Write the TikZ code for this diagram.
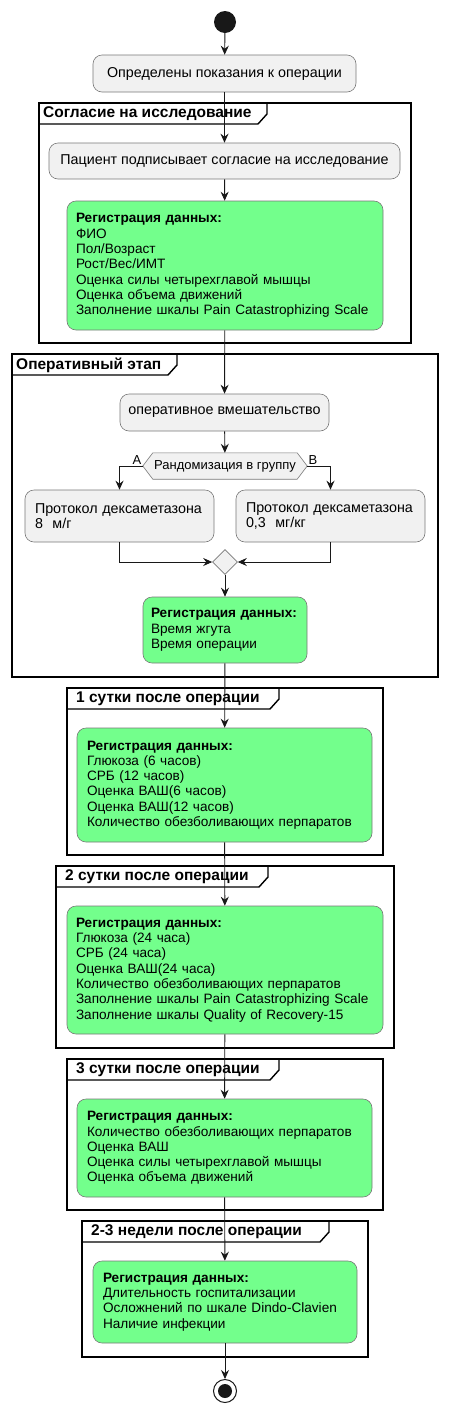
\documentclass[tikz,border=0pt]{standalone}
\usepackage{fontspec}
\setmainfont{Liberation Sans}
\usetikzlibrary{arrows.meta, positioning, shapes.geometric}
\definecolor{actgray}{RGB}{241, 241, 241}
\definecolor{reggreen}{RGB}{115, 255, 140}
\definecolor{flowline}{RGB}{24, 24, 24}
\definecolor{actborder}{RGB}{120, 120, 120}
\tikzset{
  act/.style={draw=actborder, fill=actgray, rounded corners=9pt, line width=0.6pt, inner sep=0pt, font=\fontsize{14.3}{15.3}\selectfont},
  reg/.style={act, fill=reggreen, align=left, inner xsep=9pt, font=\fontsize{13.6}{15.3}\selectfont},
  frm/.style={draw=black, line width=1.4pt},
  frmtitle/.style={anchor=west, inner sep=0pt, font=\fontsize{15.5}{17}\selectfont\bfseries},
  flow/.style={draw=flowline, line width=0.9pt, -{Stealth[length=9pt, width=8pt, inset=3pt]}},
}

\begin{document}
\begin{tikzpicture}[x=1pt, y=-1pt]
  \useasboundingbox (0,0) rectangle (452,1414);

  % frames
  \draw[frm] (39,103) rectangle (411,343);
  \draw[frm] (39,124) -- (258,124) -- (267,114) -- (267,103);
  \node[frmtitle] (t1) at (43,114) {Согласие на исследование};

  \draw[frm] (12,354) rectangle (438,677);
  \draw[frm] (12,375) -- (168,375) -- (177,365) -- (177,354);
  \node[frmtitle] (t2) at (16,365) {Оперативный этап};

  \draw[frm] (67,688) rectangle (383,855);
  \draw[frm] (67,709) -- (270,709) -- (279,699) -- (279,688);
  \node[frmtitle] (t3) at (76,699) {1 сутки после операции};

  \draw[frm] (56,866) rectangle (394,1048);
  \draw[frm] (56,887) -- (259,887) -- (268,877) -- (268,866);
  \node[frmtitle] (t4) at (65,877) {2 сутки после операции};

  \draw[frm] (67,1059) rectangle (383,1210);
  \draw[frm] (67,1080) -- (270,1080) -- (279,1070) -- (279,1059);
  \node[frmtitle] (t5) at (76,1070) {3 сутки после операции};

  \draw[frm] (82,1221) rectangle (368,1357);
  \draw[frm] (82,1242) -- (320,1242) -- (329,1232) -- (329,1221);
  \node[frmtitle] (t6) at (91,1232) {2-3 недели после операции};

  % activities
  \node[circle, fill=flowline, minimum size=22pt, inner sep=0pt] (start) at (225,22) {};
  \node[act, minimum width=263pt, minimum height=37pt] (indic) at (224.5,73.5) {Определены показания к операции};
  \node[act, minimum width=351pt, minimum height=36pt] (consent) at (224.5,161) {Пациент подписывает согласие на исследование};
  \node[reg, text width=298pt, minimum height=129pt] (reg1) at (225,265.5) {
    \textbf{Регистрация данных:}\\ФИО\\Пол/Возраст\\Рост/Вес/ИМТ\\Оценка силы четырехглавой мышцы\\Оценка объема движений\\Заполнение шкалы Pain Catastrophizing Scale};

  \node[act, minimum width=209pt, minimum height=37pt] (surgery) at (224.5,412.5) {оперативное вмешательство};
  \node[minimum width=164pt, minimum height=26pt, inner sep=0pt] (rand) at (225,466) {};
  \draw[draw=actborder, fill=actgray, line width=0.6pt] (rand.west) -- ([xshift=10pt]rand.north west) -- ([xshift=-10pt]rand.north east) -- (rand.east) -- ([xshift=-10pt]rand.south east) -- ([xshift=10pt]rand.south west) -- cycle;
  \node[inner sep=0pt, font=\fontsize{13}{14}\selectfont] (randtext) at (rand) {Рандомизация в группу};
  \node[act, align=left, inner xsep=10pt, text width=169pt, minimum height=52pt] (protA) at (119.5,516) {Протокол дексаметазона\\8\ \ м/г};
  \node[act, align=left, inner xsep=10pt, text width=169pt, minimum height=52pt] (protB) at (330.5,516) {Протокол дексаметазона\\0,3\ \ мг/кг};
  \node[diamond, draw=actborder, fill=actgray, line width=0.6pt, minimum size=25pt, inner sep=0pt] (merge) at (225,562) {};
  \node[reg, inner xsep=8pt, text width=148pt, minimum height=66pt] (reg2) at (225,630) {
    \textbf{Регистрация данных:}\\Время жгута\\Время операции};

  \node[reg, inner xsep=10pt, text width=275pt, minimum height=114pt] (reg3) at (224.5,785) {
    \textbf{Регистрация данных:}\\Глюкоза (6 часов)\\СРБ (12 часов)\\Оценка ВАШ(6 часов)\\Оценка ВАШ(12 часов)\\Количество обезболивающих перпаратов};
  \node[reg, text width=298pt, minimum height=128pt] (reg4) at (225,970) {
    \textbf{Регистрация данных:}\\Глюкоза (24 часа)\\СРБ (24 часа)\\Оценка ВАШ(24 часа)\\Количество обезболивающих перпаратов\\Заполнение шкалы Pain Catastrophizing Scale\\Заполнение шкалы Quality of Recovery-15};
  \node[reg, inner xsep=10pt, text width=275pt, minimum height=98pt] (reg5) at (224.5,1148) {
    \textbf{Регистрация данных:}\\Количество обезболивающих перпаратов\\Оценка ВАШ\\Оценка силы четырехглавой мышцы\\Оценка объема движений};
  \node[reg, inner xsep=10pt, text width=244pt, minimum height=82pt] (reg6) at (225,1302) {
    \textbf{Регистрация данных:}\\Длительность госпитализации\\Осложнений по шкале Dindo-Clavien\\Наличие инфекции};

  \node[circle, draw=flowline, fill=white, line width=1pt, minimum size=23pt, inner sep=0pt] (stop) at (225,1391) {};
  \node[circle, fill=flowline, minimum size=14pt, inner sep=0pt] (stopdot) at (stop) {};

  % connectors
  \draw[flow] (start) -- (indic);
  \draw[flow] (indic) -- (consent);
  \draw[flow] (consent) -- (reg1);
  \draw[flow] (reg1) -- (surgery);
  \draw[flow] (surgery) -- (rand);
  \draw[flow] (rand.west) node[above left=0pt and 0pt, inner sep=1pt, font=\fontsize{13}{14}\selectfont] {A} -| (protA.north);
  \draw[flow] (rand.east) node[above right=0pt and 0pt, inner sep=1pt, font=\fontsize{13}{14}\selectfont] {B} -| (protB.north);
  \draw[flow] (protA.south) |- (merge.west);
  \draw[flow] (protB.south) |- (merge.east);
  \draw[flow] (merge) -- (reg2);
  \draw[flow] (reg2) -- (reg3);
  \draw[flow] (reg3) -- (reg4);
  \draw[flow] (reg4) -- (reg5);
  \draw[flow] (reg5) -- (reg6);
  \draw[flow] (reg6) -- (stop);
\end{tikzpicture}
\end{document}
